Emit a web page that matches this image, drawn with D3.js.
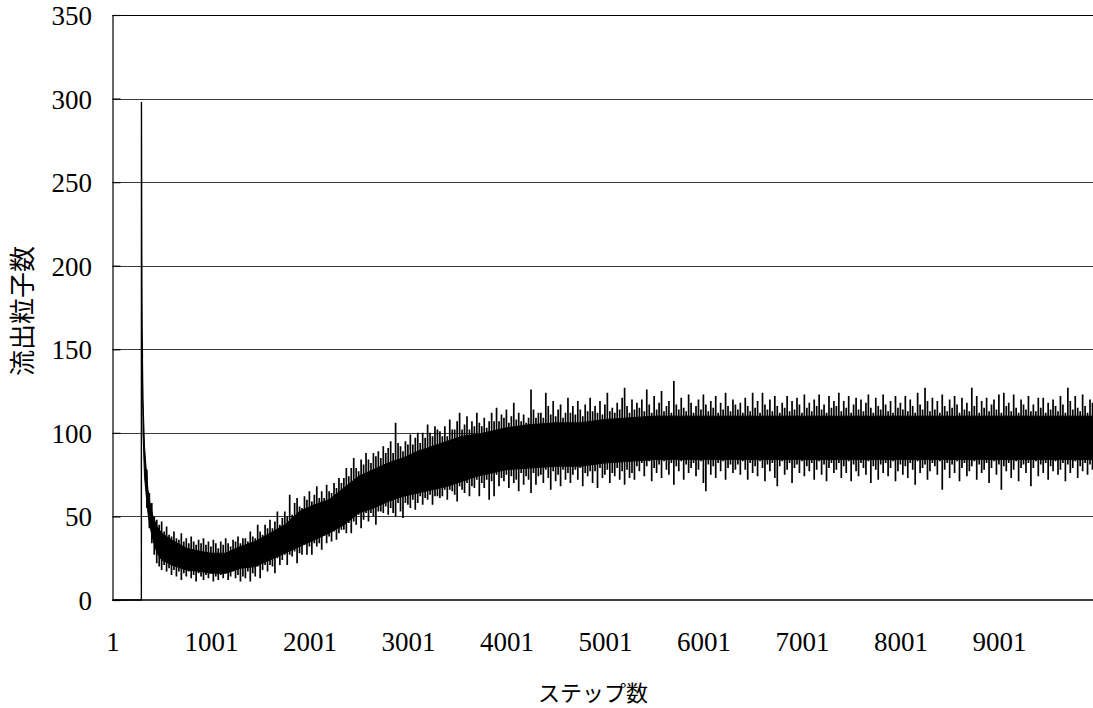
<!DOCTYPE html>
<html>
<head>
<meta charset="utf-8">
<script src="https://cdn.jsdelivr.net/npm/d3@7"></script>
<style>
  html, body { margin: 0; padding: 0; background: #fff; }
  svg { display: block; }
</style>
</head>
<body>
<svg id="chart" width="1093" height="708"></svg>
<script>
// Axis ticks
const xTicks = [1, 1001, 2001, 3001, 4001, 5001, 6001, 7001, 8001, 9001];
const yTicks = [0, 50, 100, 150, 200, 250, 300, 350];

// Start of the run: empty steps, then the first burst of particles
const leadSteps  = [1, 294, 295, 296, 297, 298, 300, 302, 305];
const leadValues = [0, 0, 298, 262, 231, 205, 178, 160, 145];

// Dense part of the fluctuating signal (upper / lower edge of the band)
const coreSteps = [305, 311, 326, 341, 361, 382, 412, 453, 500, 600,
  750, 900, 1000, 1150, 1300, 1450, 1600, 1750, 1900, 2050,
  2200, 2350, 2500, 2650, 2800, 2950, 3100, 3250, 3400, 3550,
  3700, 3850, 4000, 4250, 4500, 4750, 5000, 5500, 6000, 6500,
  7000, 7500, 8000, 8500, 9000, 9500, 10001];
const coreHigh = [150, 120, 92, 80, 66, 58, 50, 44, 40, 36,
  31, 29, 28, 28, 32, 35, 40, 45, 53, 57,
  60, 67, 74, 78, 82, 85, 89, 92, 95, 98,
  99, 101, 103, 105, 106, 106, 108, 110, 110, 110,
  110, 110, 110, 110, 110, 110, 110];
const coreLow = [135, 100, 74, 64, 52, 44, 36, 28, 24, 21,
  18, 17, 16, 16, 19, 20, 24, 28, 32, 36,
  40, 45, 52, 55, 59, 62, 64, 66, 68, 71,
  74, 76, 78, 79, 80, 80, 82, 84, 84, 84,
  84, 84, 84, 84, 84, 84, 84];

// Highest / lowest count in every 25-step window, from step 350 on
const peakHigh = [
  78, 64, 58, 50, 48, 45, 47, 41, 44, 39, 38, 41, 37, 36, 40, 35, 37, 34, 38, 35,
  33, 36, 34, 37, 33, 35, 32, 36, 34, 31, 35, 33, 37, 34, 32, 36, 35, 38, 34, 37,
  37, 35, 41, 38, 37, 45, 41, 39, 45, 43, 48, 43, 47, 53, 45, 49, 53, 50, 63, 51,
  58, 61, 56, 55, 62, 60, 65, 59, 63, 68, 61, 65, 61, 69, 65, 64, 70, 67, 73, 70,
  73, 79, 74, 79, 85, 79, 77, 84, 81, 88, 84, 82, 88, 86, 89, 85, 92, 88, 91, 95,
  88, 106, 94, 92, 89, 95, 93, 99, 93, 97, 100, 94, 100, 97, 105, 100, 98, 104, 102, 101,
  98, 104, 98, 108, 102, 102, 107, 112, 102, 105, 110, 102, 107, 104, 112, 106, 104, 109, 103, 107,
  112, 107, 115, 107, 111, 109, 114, 106, 110, 118, 108, 112, 107, 111, 106, 109, 126, 114, 109, 112,
  112, 109, 124, 116, 111, 119, 110, 114, 117, 109, 112, 121, 112, 116, 111, 119, 114, 110, 117, 113,
  121, 113, 116, 112, 119, 111, 117, 124, 113, 115, 112, 118, 114, 121, 127, 116, 112, 120, 114, 118,
  115, 120, 113, 126, 117, 112, 122, 114, 118, 125, 113, 116, 119, 112, 131, 117, 114, 121, 115, 113,
  123, 118, 112, 116, 120, 114, 123, 117, 113, 119, 115, 122, 112, 118, 114, 124, 116, 113, 120, 117,
  114, 118, 112, 121, 116, 113, 124, 115, 119, 112, 124, 117, 114, 120, 113, 122, 116, 112, 118, 115,
  122, 113, 119, 114, 121, 117, 112, 123, 115, 118, 113, 120, 116, 123, 114, 117, 112, 122, 115, 119,
  116, 124, 113, 119, 115, 122, 112, 117, 121, 114, 120, 113, 118, 123, 115, 112, 121, 116, 114, 123,
  117, 113, 119, 112, 122, 115, 118, 114, 122, 113, 120, 116, 112, 124, 117, 114, 127, 119, 113, 121,
  114, 119, 112, 123, 116, 113, 120, 115, 122, 117, 112, 121, 114, 118, 113, 127, 116, 122, 112, 119,
  115, 121, 113, 117, 120, 114, 123, 112, 124, 116, 118, 113, 123, 115, 112, 120, 117, 114, 122, 113,
  117, 113, 121, 115, 121, 112, 118, 114, 120, 116, 113, 122, 117, 112, 127, 119, 114, 122, 115, 113,
  123, 116, 112, 120, 118, 114];
const peakLow = [
  55, 43, 34, 27, 22, 20, 18, 21, 17, 19, 15, 18, 14, 17, 12, 16, 14, 17, 13, 15,
  11, 16, 14, 12, 15, 13, 16, 11, 14, 12, 15, 13, 16, 12, 14, 17, 13, 15, 11, 14,
  13, 17, 11, 16, 14, 20, 13, 18, 21, 17, 21, 20, 16, 25, 21, 24, 27, 21, 27, 26,
  29, 22, 28, 27, 33, 27, 32, 27, 34, 32, 34, 30, 39, 34, 38, 35, 41, 36, 40, 42,
  42, 40, 46, 40, 47, 45, 51, 43, 48, 52, 47, 52, 50, 45, 53, 53, 52, 56, 51, 55,
  52, 50, 58, 53, 49, 58, 57, 55, 60, 54, 58, 62, 57, 61, 60, 63, 57, 62, 62, 61,
  62, 66, 60, 66, 65, 63, 59, 68, 66, 64, 70, 62, 68, 67, 72, 62, 70, 67, 72, 60,
  71, 62, 75, 68, 73, 71, 75, 67, 74, 70, 72, 65, 76, 69, 74, 72, 64, 76, 69, 74,
  75, 70, 78, 73, 66, 77, 71, 75, 68, 78, 72, 76, 70, 75, 78, 72, 79, 68, 76, 74,
  77, 70, 77, 67, 79, 73, 75, 78, 70, 76, 74, 79, 72, 77, 69, 78, 73, 76, 72, 80,
  77, 82, 74, 80, 83, 71, 79, 76, 81, 73, 83, 78, 75, 82, 69, 80, 77, 83, 72, 81,
  76, 79, 82, 74, 78, 83, 70, 65, 81, 75, 80, 73, 82, 77, 83, 72, 79, 81, 76, 78,
  81, 75, 83, 78, 72, 82, 76, 80, 74, 83, 79, 71, 81, 77, 82, 73, 68, 80, 83, 75,
  78, 82, 70, 79, 81, 76, 83, 74, 80, 77, 82, 72, 78, 83, 75, 81, 71, 79, 82, 76,
  78, 82, 73, 80, 76, 83, 71, 81, 77, 74, 82, 79, 75, 83, 70, 80, 78, 72, 81, 76,
  82, 74, 79, 83, 71, 77, 81, 75, 80, 73, 82, 78, 69, 83, 76, 79, 81, 72, 77, 82,
  80, 75, 83, 66, 78, 82, 73, 81, 76, 83, 71, 79, 82, 74, 77, 80, 83, 72, 81, 76,
  78, 82, 70, 79, 83, 75, 81, 66, 80, 77, 82, 73, 78, 83, 71, 79, 81, 76, 82, 68,
  79, 83, 74, 81, 76, 82, 72, 80, 77, 83, 75, 78, 82, 71, 81, 76, 79, 83, 73, 80,
  77, 82, 75, 81, 78, 74];
const peakSteps = d3.range(350, 10000, 25);

const serif = "'Liberation Serif', 'Times New Roman', Times, serif";
const gothic = "'Noto Sans CJK JP', 'Noto Sans', sans-serif";

const svg = d3.select("#chart");
const x = d3.scaleLinear().domain([1, 10001]).range([112.5, 1097.5]);
const y = d3.scaleLinear().domain([0, 350]).range([600, 15]);

// Horizontal gridlines
svg.append("g")
  .selectAll("line")
  .data(yTicks.filter(v => v > 0))
  .join("line")
  .attr("x1", x(1)).attr("x2", 1093)
  .attr("y1", d => Math.round(y(d)) + 0.5).attr("y2", d => Math.round(y(d)) + 0.5)
  .attr("stroke", d => d === 350 ? "#000" : "#3a3a3a")
  .attr("stroke-width", 1);

// Series
const plot = svg.append("g");

plot.append("path")
  .datum(coreSteps.map((s, i) => [s, coreHigh[i], coreLow[i]]))
  .attr("fill", "#000")
  .attr("stroke", "#000")
  .attr("stroke-width", 1)
  .attr("d", d3.area().x(d => x(d[0])).y0(d => y(d[2])).y1(d => y(d[1])));

plot.append("path")
  .attr("fill", "none")
  .attr("stroke", "#000")
  .attr("stroke-width", 1.7)
  .attr("d", peakSteps.map((s, i) =>
    `M${x(s).toFixed(2)},${y(peakLow[i]).toFixed(2)}V${y(peakHigh[i]).toFixed(2)}`).join(""));

plot.append("path")
  .datum(leadSteps.map((s, i) => [s, leadValues[i]]))
  .attr("fill", "none")
  .attr("stroke", "#000")
  .attr("stroke-width", 1.4)
  .attr("d", d3.line().x(d => x(d[0])).y(d => y(d[1])));

// Y axis with inward ticks
const yAxis = svg.append("g")
  .attr("transform", `translate(${x(1)},0)`)
  .call(d3.axisLeft(y).tickValues(yTicks).tickSizeInner(-8).tickSizeOuter(0).tickPadding(20.5));
yAxis.select(".domain").attr("stroke", "#000").attr("stroke-width", 1.2);
yAxis.selectAll(".tick line").attr("stroke", "#000").attr("stroke-width", 1.2);
yAxis.selectAll(".tick text")
  .attr("dy", null).attr("y", 9.5)
  .style("font-family", serif).style("font-size", "27px").style("fill", "#000");

// X axis
const xAxis = svg.append("g")
  .attr("transform", `translate(0,${y(0)})`)
  .call(d3.axisBottom(x).tickValues(xTicks).tickFormat(d3.format("d")).tickSize(0).tickPadding(0));
xAxis.select(".domain").attr("d", `M${x(1)},0H1093`).attr("stroke", "#000").attr("stroke-width", 1.6);
xAxis.selectAll(".tick text")
  .attr("dy", null).attr("y", 51)
  .style("font-family", serif).style("font-size", "27px").style("fill", "#000");

// Axis titles
svg.append("text")
  .attr("x", 593).attr("y", 701)
  .attr("text-anchor", "middle")
  .style("font-family", gothic).style("font-size", "22px").style("fill", "#000")
  .text("ステップ数");

svg.append("text")
  .attr("transform", "translate(32,311) rotate(-90)")
  .attr("text-anchor", "middle")
  .style("font-family", gothic).style("font-size", "26px").style("fill", "#000")
  .text("流出粒子数");
</script>
</body>
</html>
